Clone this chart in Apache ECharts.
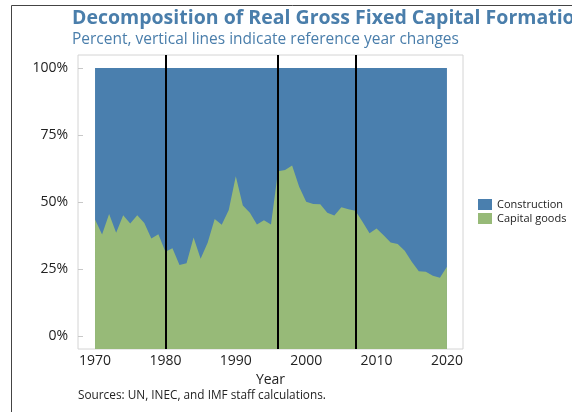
<!DOCTYPE html>
<html>
<head>
<meta charset="utf-8">
<script src="https://cdn.jsdelivr.net/npm/echarts@6/dist/echarts.min.js"></script>
<style>
  html, body { margin: 0; padding: 0; background: #fff; }
  #chart { width: 572px; height: 412px; }
</style>
</head>
<body>
<div id="chart"></div>
<script>
// years 1970..2020
var years = [];
for (var y = 1970; y <= 2020; y++) years.push(y);

// share of capital goods, percent
var capitalGoods = [
  43.5, 37.9, 45.5, 38.5, 45.1, 42.0, 45.1, 42.2, 36.4, 38.0,
  31.4, 32.7, 26.5, 27.1, 36.8, 28.8, 34.8, 43.7, 41.5, 47.0,
  59.6, 48.7, 46.0, 41.6, 43.2, 41.6, 61.5, 61.9, 63.6, 55.7,
  50.1, 49.3, 49.2, 46.0, 45.0, 48.0, 47.3, 46.7, 42.6, 38.3,
  40.1, 37.6, 34.9, 34.3, 31.8, 27.7, 24.2, 24.0, 22.5, 21.7,
  25.8
];

// share of construction, percent
var construction = [
  56.5, 62.1, 54.5, 61.5, 54.9, 58.0, 54.9, 57.8, 63.6, 62.0,
  68.6, 67.3, 73.5, 72.9, 63.2, 71.2, 65.2, 56.3, 58.5, 53.0,
  40.4, 51.3, 54.0, 58.4, 56.8, 58.4, 38.5, 38.1, 36.4, 44.3,
  49.9, 50.7, 50.8, 54.0, 55.0, 52.0, 52.7, 53.3, 57.4, 61.7,
  59.9, 62.4, 65.1, 65.7, 68.2, 72.3, 75.8, 76.0, 77.5, 78.3,
  74.2
];

// reference year changes
var refYears = [1980, 1996, 2007];

var yTicks = [0, 25, 50, 75, 100];
var xTicks = [1970, 1980, 1990, 2000, 2010, 2020];

// bottom series as is, top series stacked on top of it
var capPairs = [], conPairs = [];
for (var i = 0; i < years.length; i++) {
  capPairs.push([years[i], capitalGoods[i]]);
  conPairs.push([years[i], capitalGoods[i] + construction[i]]);
}

var chart = echarts.init(document.getElementById('chart'));

var option = {
  animation: false,
  textStyle: { fontFamily: 'Open Sans' },
  title: [{
    text: 'Decomposition of Real Gross Fixed Capital Formation',
    left: 72,
    top: 8,
    padding: 0,
    textStyle: { fontSize: 19.5, fontWeight: 'bold', color: '#4a7eab', fontFamily: 'Open Sans' }
  }, {
    text: 'Percent, vertical lines indicate reference year changes',
    left: 72,
    top: 32,
    padding: 0,
    textStyle: { fontSize: 15.5, fontWeight: 'normal', color: '#4a7eab', fontFamily: 'Open Sans' }
  }, {
    text: 'Sources: UN, INEC, and IMF staff calculations.',
    left: 78,
    top: 390,
    padding: 0,
    textStyle: { fontSize: 11.8, fontWeight: 'normal', color: '#222', fontFamily: 'Open Sans' }
  }],
  legend: {
    orient: 'vertical',
    left: 473,
    top: 194,
    itemWidth: 14,
    itemHeight: 11,
    itemGap: 3,
    icon: 'rect',
    textStyle: { fontSize: 11, color: '#222' },
    data: ['Construction', 'Capital goods']
  },
  grid: {
    left: 78,
    top: 55,
    width: 385,
    height: 294,
    show: true,
    borderColor: '#d4d4d4',
    borderWidth: 1,
    backgroundColor: '#fff'
  },
  xAxis: {
    type: 'value',
    min: 1967.58,
    max: 2022.28,
    name: 'Year',
    nameLocation: 'middle',
    nameGap: 24,
    nameTextStyle: { fontSize: 14, color: '#222' },
    axisLine: { show: false },
    axisTick: { show: false },
    splitLine: { show: false },
    axisLabel: {
      customValues: xTicks,
      formatter: function (v) { return String(v); },
      fontSize: 14,
      color: '#222',
      margin: 5
    }
  },
  yAxis: {
    type: 'value',
    min: -4.85,
    max: 104.85,
    axisLine: { show: false },
    splitLine: { show: false },
    axisTick: {
      show: true,
      inside: true,
      length: 5,
      customValues: yTicks,
      lineStyle: { color: '#c8c8c8' }
    },
    axisLabel: {
      customValues: yTicks,
      formatter: '{value}%',
      fontSize: 14,
      color: '#222',
      margin: 10
    }
  },
  graphic: [{
    type: 'polyline',
    shape: { points: [[11.5, 420], [11.5, 5.5], [580, 5.5]] },
    style: { stroke: '#444', lineWidth: 1, fill: null },
    silent: true
  }],
  series: [{
    name: 'Construction',
    type: 'line',
    symbol: 'none',
    color: '#4a7fae',
    lineStyle: { width: 0 },
    areaStyle: { color: '#4a7fae', opacity: 1, origin: 'start' },
    data: conPairs,
    z: 2
  }, {
    name: 'Capital goods',
    type: 'line',
    symbol: 'none',
    color: '#97ba78',
    lineStyle: { width: 0 },
    areaStyle: { color: '#97ba78', opacity: 1, origin: 'start' },
    data: capPairs,
    z: 3,
    markLine: {
      silent: true,
      symbol: 'none',
      label: { show: false },
      lineStyle: { color: '#000', width: 2, type: 'solid' },
      data: refYears.map(function (r) { return { xAxis: r }; })
    }
  }]
};

chart.setOption(option);
</script>
</body>
</html>
